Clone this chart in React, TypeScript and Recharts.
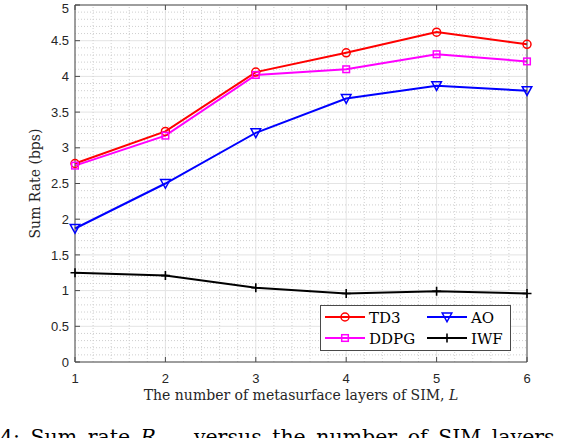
import React from "react";
import {
  LineChart,
  Line,
  XAxis,
  YAxis,
  CartesianGrid,
  ReferenceLine,
  Legend,
  Label,
} from "recharts";

// number of metasurface layers L
const layers = [1, 2, 3, 4, 5, 6];
// sum rate (bps) per scheme
const td3 = [2.78, 3.23, 4.06, 4.33, 4.62, 4.45];
const ddpg = [2.75, 3.17, 4.02, 4.1, 4.31, 4.21];
const ao = [1.87, 2.5, 3.21, 3.69, 3.87, 3.8];
const iwf = [1.25, 1.21, 1.04, 0.96, 0.99, 0.96];

const xTicks = [1, 2, 3, 4, 5, 6];
const yTicks = [0, 0.5, 1, 1.5, 2, 2.5, 3, 3.5, 4, 4.5, 5];

const rows = layers.map((l, i) => ({
  layers: l,
  td3: td3[i],
  ddpg: ddpg[i],
  ao: ao[i],
  iwf: iwf[i],
}));

// minor grid (MATLAB style): 0.2 steps on x, 0.1 steps on y
const xMinor: number[] = [];
for (let k = 6; k < 30; k++) if (k % 5 !== 0) xMinor.push(k / 5);
const yMinor: number[] = [];
for (let k = 1; k < 50; k++) if (k % 5 !== 0) yMinor.push(k / 10);

const AXIS = "#4a4a4a";
const TICK_FONT = "'Liberation Sans', Arial, sans-serif";
const SERIF = "'DejaVu Serif', serif";

type Shape = "circle" | "square" | "triangle" | "plus";

function Marker({ shape, cx, cy, color }: { shape: Shape; cx: number; cy: number; color: string }) {
  if (shape === "circle")
    return <circle cx={cx} cy={cy} r={4} fill="none" stroke={color} strokeWidth={1.5} />;
  if (shape === "square")
    return <rect x={cx - 3.3} y={cy - 3.3} width={6.6} height={6.6} fill="none" stroke={color} strokeWidth={1.5} />;
  if (shape === "triangle")
    return (
      <path
        d={`M${cx - 4.8},${cy - 4} L${cx + 4.8},${cy - 4} L${cx},${cy + 4.8} Z`}
        fill="none"
        stroke={color}
        strokeWidth={1.5}
      />
    );
  return (
    <path
      d={`M${cx - 4.5},${cy} L${cx + 4.5},${cy} M${cx},${cy - 4.5} L${cx},${cy + 4.5}`}
      stroke={color}
      strokeWidth={1.6}
    />
  );
}

const series = [
  { key: "td3", name: "TD3", color: "#ff0000", shape: "circle" as Shape },
  { key: "ddpg", name: "DDPG", color: "#ff00ff", shape: "square" as Shape },
  { key: "ao", name: "AO", color: "#0000ff", shape: "triangle" as Shape },
  { key: "iwf", name: "IWF", color: "#000000", shape: "plus" as Shape },
];

function LegendBox() {
  // two columns: TD3 / DDPG, AO / IWF
  const cols = [
    [series[0], series[1]],
    [series[2], series[3]],
  ];
  return (
    <svg width={191} height={46} style={{ display: "block" }}>
      <rect x={0.5} y={0.5} width={190} height={45} fill="#fff" stroke={AXIS} strokeWidth={1} />
      {cols.map((col, ci) =>
        col.map((s, ri) => {
          const x0 = 5 + ci * 102;
          const y = 12 + ri * 21;
          return (
            <g key={s.key}>
              <line x1={x0} y1={y} x2={x0 + 40} y2={y} stroke={s.color} strokeWidth={2} />
              <Marker shape={s.shape} cx={x0 + 20} cy={y} color={s.color} />
              <text
                x={x0 + 44}
                y={y + 5.5}
                fontFamily={SERIF}
                fontSize={15}
                fill="#000"
              >
                {s.name}
              </text>
            </g>
          );
        })
      )}
    </svg>
  );
}

export default function App() {
  return (
    <div style={{ position: "absolute", left: 0, top: 0, width: 568, height: 438, overflow: "hidden", background: "#fff" }}>
      <LineChart width={568} height={438} data={rows} margin={{ top: 0, right: 0, bottom: 0, left: 0 }}>
        <CartesianGrid xAxisId="b" yAxisId="l" stroke="#e4e4e4" strokeWidth={1} />
        {xMinor.map((v) => (
          <ReferenceLine key={`mx${v}`} xAxisId="b" yAxisId="l" x={v} stroke="#cfcfcf" strokeDasharray="1 2" />
        ))}
        {yMinor.map((v) => (
          <ReferenceLine key={`my${v}`} xAxisId="b" yAxisId="l" y={v} stroke="#cfcfcf" strokeDasharray="1 2" />
        ))}
        <XAxis
          xAxisId="b"
          dataKey="layers"
          type="number"
          domain={[1, 6]}
          ticks={xTicks}
          height={76}
          tickSize={-5}
          tickMargin={17}
          stroke={AXIS}
          tick={{ fill: "#262626", fontSize: 13, fontFamily: TICK_FONT }}
        >
          <Label
            content={({ viewBox }: any) => (
              <text
                x={viewBox.x + viewBox.width / 2}
                y={400}
                textAnchor="middle"
                fontFamily={SERIF}
                fontSize={14}
                fill="#262626"
              >
                The number of metasurface layers of SIM,{" "}
                <tspan fontStyle="italic">L</tspan>
              </text>
            )}
          />
        </XAxis>
        <XAxis
          xAxisId="t"
          orientation="top"
          dataKey="layers"
          type="number"
          domain={[1, 6]}
          ticks={xTicks}
          height={5}
          tickSize={-5}
          stroke={AXIS}
          tickFormatter={() => ""}
        />
        <YAxis
          yAxisId="l"
          type="number"
          domain={[0, 5]}
          ticks={yTicks}
          width={75}
          tickSize={-5}
          tickMargin={11}
          stroke={AXIS}
          tick={{ fill: "#262626", fontSize: 13, fontFamily: TICK_FONT }}
        >
          <Label
            content={({ viewBox }: any) => {
              const cx = 35;
              const cy = viewBox.y + viewBox.height / 2;
              return (
                <text
                  x={cx}
                  y={cy}
                  transform={`rotate(-90, ${cx}, ${cy})`}
                  textAnchor="middle"
                  dominantBaseline="central"
                  fontFamily={SERIF}
                  fontSize={14}
                  fill="#262626"
                >
                  Sum Rate (bps)
                </text>
              );
            }}
          />
        </YAxis>
        <YAxis
          yAxisId="r"
          orientation="right"
          type="number"
          domain={[0, 5]}
          ticks={yTicks}
          width={41}
          tickSize={-5}
          stroke={AXIS}
          tickFormatter={() => ""}
        />
        {series.map((s) => (
          <Line
            key={s.key}
            xAxisId="b"
            yAxisId="l"
            dataKey={s.key}
            name={s.name}
            stroke={s.color}
            strokeWidth={2}
            isAnimationActive={false}
            activeDot={false}
            dot={(p: any) => (
              <Marker key={`${s.key}${p.index}`} shape={s.shape} cx={p.cx} cy={p.cy} color={s.color} />
            )}
          />
        ))}
        <Legend
          layout="vertical"
          align="center"
          verticalAlign="middle"
          content={() => <LegendBox />}
          wrapperStyle={{ left: 320, top: 305, width: 191, height: 46 }}
        />
      </LineChart>
      <div
        style={{
          position: "absolute",
          left: 0,
          top: 425,
          whiteSpace: "nowrap",
          fontFamily: SERIF,
          fontSize: 20.5,
          wordSpacing: 4,
          color: "#000",
          lineHeight: "24px",
        }}
      >
        4: Sum rate <i>R</i>
        <sub style={{ fontSize: 13 }}>sum</sub> versus the number of SIM layers
      </div>
    </div>
  );
}
